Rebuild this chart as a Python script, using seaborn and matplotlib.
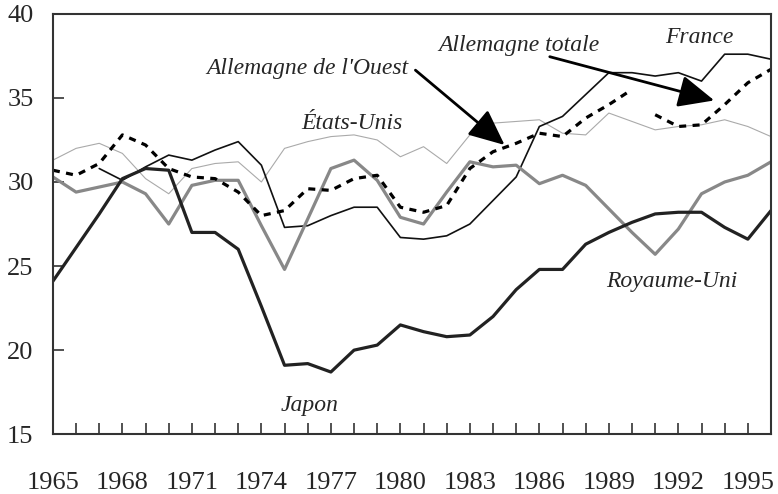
import numpy as np
import pandas as pd
import seaborn as sns
import matplotlib.pyplot as plt

years = list(range(1965, 1997))

japon = [24.1, 26.1, 28.1, 30.2, 30.8, 30.7, 27.0, 27.0, 26.0, 22.6, 19.1, 19.2,
         18.7, 20.0, 20.3, 21.5, 21.1, 20.8, 20.9, 22.0, 23.6, 24.8, 24.8, 26.3,
         27.0, 27.6, 28.1, 28.2, 28.2, 27.3, 26.6, 28.3]
royaume_uni = [30.3, 29.4, 29.7, 30.0, 29.3, 27.5, 29.8, 30.1, 30.1, 27.4, 24.8, 27.8,
               30.8, 31.3, 30.1, 27.9, 27.5, 29.4, 31.2, 30.9, 31.0, 29.9, 30.4, 29.8,
               28.4, 27.0, 25.7, 27.2, 29.3, 30.0, 30.4, 31.2]
france_years = list(range(1967, 1997))
france = [30.8, 30.1, 30.9, 31.6, 31.3, 31.9, 32.4, 31.0, 27.3, 27.4, 28.0, 28.5,
          28.5, 26.7, 26.6, 26.8, 27.5, 28.9, 30.3, 33.3, 33.9, 35.2, 36.5, 36.5,
          36.3, 36.5, 36.0, 37.6, 37.6, 37.3]
etats_unis = [31.3, 32.0, 32.3, 31.7, 30.2, 29.3, 30.8, 31.1, 31.2, 30.0, 32.0, 32.4,
              32.7, 32.8, 32.5, 31.5, 32.1, 31.1, 32.8, 33.5, 33.6, 33.7, 32.9, 32.8,
              34.1, 33.6, 33.1, 33.3, 33.4, 33.7, 33.3, 32.7]
rfa_years = list(range(1965, 1991))
allemagne_ouest = [30.7, 30.4, 31.1, 32.8, 32.2, 30.8, 30.3, 30.2, 29.4, 28.0, 28.3, 29.6,
                   29.5, 30.2, 30.4, 28.5, 28.2, 28.6, 30.8, 31.8, 32.3, 32.9, 32.7, 33.8,
                   34.6, 35.5]
all_years = list(range(1991, 1997))
allemagne_totale = [34.0, 33.3, 33.4, 34.6, 35.9, 36.7]

sns.set_style("ticks")
plt.rcParams['font.family'] = ['Liberation Serif', 'DejaVu Serif']

fig, ax = plt.subplots(figsize=(7.78, 4.94), dpi=100)
fig.subplots_adjust(left=0.068, right=0.991, top=0.972, bottom=0.121)

sns.lineplot(x=years, y=etats_unis, ax=ax, color="#aaaaaa", lw=0.8)
sns.lineplot(x=france_years, y=france, ax=ax, color="#111111", lw=1.2)
sns.lineplot(x=years, y=royaume_uni, ax=ax, color="#888888", lw=2.3)
sns.lineplot(x=years, y=japon, ax=ax, color="#222222", lw=2.3)
sns.lineplot(x=rfa_years, y=allemagne_ouest, ax=ax, color="black", lw=2.3)
sns.lineplot(x=all_years, y=allemagne_totale, ax=ax, color="black", lw=2.3)
# pointillés pour l'Allemagne
for ln in ax.lines[-2:]:
    ln.set_linestyle((0, (2.2, 2.0)))

ax.set_xlim(1965, 1996)
ax.set_ylim(15, 40)
ax.set_yticks([15, 20, 25, 30, 35, 40])
ax.set_xticks(years)
ax.set_xticklabels([str(y) if (y - 1965) % 3 == 0 else "" for y in years])
ax.tick_params(axis="both", direction="in", length=8, width=1.2, color="#333333",
               labelsize=19)
ax.tick_params(axis="x", pad=27)
ax.tick_params(axis="y", pad=14)
for sp in ax.spines.values():
    sp.set_visible(True)
    sp.set_color("#333333")
    sp.set_linewidth(1.5)

lab = dict(fontsize=17, style="italic", ha="center", va="center")
ax.text(1976.0, 36.75, "Allemagne de l'Ouest", **lab)
ax.text(1985.1, 38.1, "Allemagne totale", **lab)
ax.text(1992.9, 38.6, "France", **lab)
ax.text(1977.9, 33.5, "États-Unis", **lab)
ax.text(1976.1, 16.7, "Japon", **lab)
ax.text(1991.7, 24.1, "Royaume-Uni", **lab)

arr = dict(arrowstyle="-|>,head_length=1.0,head_width=0.45", lw=2, color="black",
           mutation_scale=22, shrinkA=0, shrinkB=0)
ax.annotate("", xy=(1984.5, 32.2), xytext=(1980.65, 36.65), arrowprops=arr)
ax.annotate("", xy=(1993.55, 34.85), xytext=(1986.45, 37.45), arrowprops=arr)

fig.savefig("out.png", dpi=100)
